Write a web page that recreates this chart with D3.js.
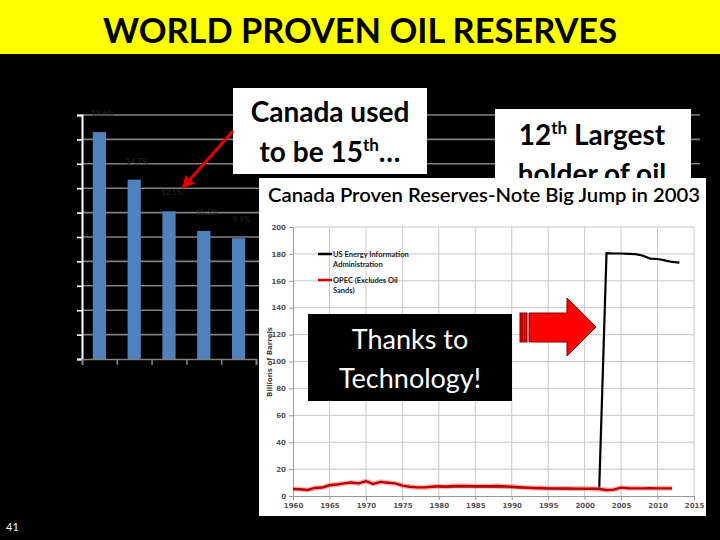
<!DOCTYPE html>
<html>
<head>
<meta charset="utf-8">
<style>
  body { margin: 0; background: #000; }
  svg { display: block; }
  text { font-family: Lato, "Open Sans", sans-serif; }
</style>
<script src="https://cdn.jsdelivr.net/npm/d3@7/dist/d3.min.js"></script>
</head>
<body>
<svg width="720" height="540"></svg>
<script>

// background bar chart: share of world reserves (labels mostly hidden)
var countries = ["Saudi Arabia", "Venezuela", "Canada", "Iran", "Iraq"];
var shares = [18.6, 14.7, 12.1, 10.5, 9.9];

// inset chart: Canada proven reserves, billions of barrels
var opecYears = [1960,1961,1962,1963,1964,1965,1966,1967,1968,1969,1970,1971,1972,1973,1974,1975,1976,1977,1978,1979,
  1980,1981,1982,1983,1984,1985,1986,1987,1988,1989,1990,1991,1992,1993,1994,1995,1996,1997,1998,1999,2000,2001,2002,
  2003,2004,2005,2006,2007,2008,2009,2010,2011,2012];
var opecValues = [5.2,5.0,4.5,6.0,6.3,8.0,8.5,9.4,10.0,9.4,11.0,9.0,10.5,9.9,9.4,7.7,6.9,6.4,6.4,6.9,
  7.2,6.9,7.4,7.4,7.4,7.3,7.3,7.3,7.4,7.2,6.9,6.5,6.2,6.0,5.9,5.7,5.7,5.6,5.6,5.5,5.5,5.4,5.2,
  4.5,4.7,6.2,5.8,5.7,5.7,5.8,5.7,5.7,5.7];
var eiaYears = [1980,1985,1990,1995,2000,2002,2003,2004,2005,2006,2007,2008,2009,2010,2011,2012,2013];
var eiaValues = [6.8,6.9,6.5,5.5,5.2,5.5,180.5,180.3,180.3,180.0,179.8,178.6,176.5,176.2,175.2,174.0,173.5];
var yearTicks = [1960,1965,1970,1975,1980,1985,1990,1995,2000,2005,2010,2015];

var svg = d3.select("svg");
var defs = svg.append("defs");

// title band
svg.append("rect").attr("x", 0).attr("y", 0).attr("width", 720).attr("height", 54).attr("fill", "#ffff00");
svg.append("text").attr("x", 360).attr("y", 43).attr("text-anchor", "middle")
  .attr("font-size", 35).attr("font-weight", "bold").attr("fill", "#000")
  .attr("textLength", 514).attr("lengthAdjust", "spacingAndGlyphs")
  .text("WORLD PROVEN OIL RESERVES");

// ---- bar chart behind everything ----
var bx = d3.scaleBand().domain(countries).range([82, 256]).paddingInner(0.62).paddingOuter(0.31);
var by = d3.scaleLinear().domain([0, 20]).range([359, 115]);

var bg = svg.append("g");
bg.selectAll("line.grid").data(by.ticks(10).slice(1)).enter().append("line")
  .attr("x1", 82).attr("x2", 700)
  .attr("y1", function(d) { return by(d); }).attr("y2", function(d) { return by(d); })
  .attr("stroke", "#808080").attr("stroke-width", 1.6);

bg.selectAll("rect.bar").data(shares).enter().append("rect")
  .attr("x", function(d, i) { return bx(countries[i]); })
  .attr("y", function(d) { return by(d); })
  .attr("width", bx.bandwidth())
  .attr("height", function(d) { return by(0) - by(d); })
  .attr("fill", "#4f81bd");

bg.selectAll("text.lab").data(shares).enter().append("text")
  .attr("x", function(d, i) { return bx(countries[i]) + bx.bandwidth() / 2 + 3; })
  .attr("y", function(d) { return by(d) - 16; })
  .attr("text-anchor", "middle").attr("font-size", 8).attr("fill", "#262626")
  .text(function(d) { return d.toFixed(1) + "%"; });

var yAx = bg.append("g").attr("transform", "translate(82,0)")
  .call(d3.axisLeft(by).ticks(10).tickSize(5).tickFormat(""));
yAx.selectAll("line").attr("stroke", "#fff").attr("stroke-width", 1.6);
yAx.select(".domain").attr("stroke", "#fff").attr("stroke-width", 2);

var xAx = bg.append("g").attr("transform", "translate(0,359)")
  .call(d3.axisBottom(d3.scaleLinear().domain([0, 5]).range([82, 256])).ticks(5).tickSize(6).tickFormat(""));
xAx.selectAll("line").attr("stroke", "#808080").attr("stroke-width", 1.6);
xAx.select(".domain").attr("stroke", "#808080").attr("stroke-width", 1.6);

// ---- callout boxes ----
svg.append("rect").attr("x", 233).attr("y", 88).attr("width", 194).attr("height", 86).attr("fill", "#fff");
svg.append("text").attr("x", 330).attr("y", 122).attr("text-anchor", "middle")
  .attr("font-size", 28).attr("font-weight", "bold").attr("fill", "#000").text("Canada used");
var t2 = svg.append("text").attr("x", 330).attr("y", 162).attr("text-anchor", "middle")
  .attr("font-size", 28).attr("font-weight", "bold").attr("fill", "#000");
t2.append("tspan").text("to be 15");
t2.append("tspan").attr("font-size", 17).attr("dy", -11).text("th");
t2.append("tspan").attr("dy", 11).text("…");

// right box is partly covered by the inset picture
defs.append("clipPath").attr("id", "rightBox")
  .append("rect").attr("x", 495).attr("y", 109).attr("width", 196).attr("height", 69);
var rb = svg.append("g").attr("clip-path", "url(#rightBox)");
rb.append("rect").attr("x", 495).attr("y", 109).attr("width", 196).attr("height", 80).attr("fill", "#fff");
var t3 = rb.append("text").attr("x", 592).attr("y", 145).attr("text-anchor", "middle")
  .attr("font-size", 28).attr("font-weight", "bold").attr("fill", "#000");
t3.append("tspan").text("12");
t3.append("tspan").attr("font-size", 17).attr("dy", -11).text("th");
t3.append("tspan").attr("dy", 11).text(" Largest");
rb.append("text").attr("x", 592).attr("y", 184).attr("text-anchor", "middle")
  .attr("font-size", 28).attr("font-weight", "bold").attr("fill", "#000").text("holder of oil");

// red pointer arrow
defs.append("marker").attr("id", "head")
  .attr("viewBox", "0 0 10 10").attr("refX", 5).attr("refY", 5)
  .attr("markerWidth", 4).attr("markerHeight", 4).attr("orient", "auto")
  .append("path").attr("d", "M0,0L10,5L0,10Z").attr("fill", "#e00000");
svg.append("line").attr("x1", 233).attr("y1", 131).attr("x2", 186).attr("y2", 184)
  .attr("stroke", "#e00000").attr("stroke-width", 3.2).attr("marker-end", "url(#head)");

// ---- inset chart picture ----
svg.append("rect").attr("x", 259).attr("y", 178).attr("width", 447).attr("height", 338).attr("fill", "#fff");
svg.append("text").attr("x", 268).attr("y", 202).attr("font-size", 19).attr("font-weight", 600).attr("fill", "#000")
  .attr("textLength", 432).attr("lengthAdjust", "spacingAndGlyphs")
  .text("Canada Proven Reserves-Note Big Jump in 2003");

var lx = d3.scaleLinear().domain([1960, 2015]).range([293, 694]);
var ly = d3.scaleLinear().domain([0, 200]).range([496, 227]);

var ig = svg.append("g");
ig.selectAll("line.hg").data(ly.ticks(10).slice(1)).enter().append("line")
  .attr("x1", 293).attr("x2", 694)
  .attr("y1", function(d) { return ly(d); }).attr("y2", function(d) { return ly(d); })
  .attr("stroke", "#c8c8c8").attr("stroke-width", 1);
ig.selectAll("line.vg").data(yearTicks.slice(1)).enter().append("line")
  .attr("x1", function(d) { return lx(d); }).attr("x2", function(d) { return lx(d); })
  .attr("y1", 227).attr("y2", 496)
  .attr("stroke", "#c8c8c8").attr("stroke-width", 1);

var ly_ax = ig.append("g").attr("transform", "translate(293,0)")
  .call(d3.axisLeft(ly).ticks(10).tickSize(4));
var lx_ax = ig.append("g").attr("transform", "translate(0,496)")
  .call(d3.axisBottom(lx).tickValues(yearTicks).tickSize(4).tickFormat(d3.format("d")));
[ly_ax, lx_ax].forEach(function(a) {
  a.selectAll("path, line").attr("stroke", "#999");
  a.selectAll("text").attr("font-size", 7).attr("font-weight", "bold").attr("fill", "#555")
    .style("font-family", "'DejaVu Sans', sans-serif");
});
ig.append("text").attr("transform", "translate(272,362) rotate(-90)")
  .attr("text-anchor", "middle").attr("font-size", 7).attr("font-weight", "bold").attr("fill", "#444")
  .style("font-family", "'DejaVu Sans', sans-serif").text("Billions of Barrels");

var line = d3.line().x(function(d) { return lx(d[0]); }).y(function(d) { return ly(d[1]); });
var eia = eiaYears.map(function(y, i) { return [y, eiaValues[i]]; });
var opec = opecYears.map(function(y, i) { return [y, opecValues[i]]; });

ig.append("path").attr("d", line(eia)).attr("fill", "none")
  .attr("stroke", "#000").attr("stroke-width", 2.2);
ig.append("path").attr("d", line(opec)).attr("fill", "none")
  .attr("stroke", "#f08080").attr("stroke-opacity", 0.6).attr("stroke-width", 5);
ig.append("path").attr("d", line(opec)).attr("fill", "none")
  .attr("stroke", "#c00000").attr("stroke-width", 2.4);

// legend
var leg = ig.append("g").style("font-family", "'DejaVu Sans', sans-serif")
  .attr("font-size", 7.5).attr("font-weight", "bold").attr("fill", "#222");
leg.append("line").attr("x1", 318).attr("x2", 332).attr("y1", 254).attr("y2", 254)
  .attr("stroke", "#000").attr("stroke-width", 2.5);
leg.append("text").attr("x", 333).attr("y", 257).text("US Energy Information");
leg.append("text").attr("x", 333).attr("y", 267).text("Administration");
leg.append("line").attr("x1", 318).attr("x2", 332).attr("y1", 280).attr("y2", 280)
  .attr("stroke", "#d00000").attr("stroke-width", 2.5);
leg.append("text").attr("x", 333).attr("y", 283).text("OPEC (Excludes Oil");
leg.append("text").attr("x", 333).attr("y", 293).text("Sands)");

// "Thanks to Technology!" box
svg.append("rect").attr("x", 308).attr("y", 314).attr("width", 204).attr("height", 87).attr("fill", "#000");
svg.append("text").attr("x", 410).attr("y", 349).attr("text-anchor", "middle")
  .attr("font-size", 27).attr("fill", "#fff").text("Thanks to");
svg.append("text").attr("x", 410).attr("y", 388).attr("text-anchor", "middle")
  .attr("font-size", 27).attr("fill", "#fff").text("Technology!");

// big red block arrow
var ba = svg.append("g").attr("stroke", "#8b0000").attr("stroke-width", 1);
ba.append("rect").attr("x", 520).attr("y", 313).attr("width", 3).attr("height", 29).attr("fill", "#d00000");
ba.append("rect").attr("x", 524).attr("y", 313).attr("width", 3).attr("height", 29).attr("fill", "#ff0000");
ba.append("path").attr("d", "M529,313L567,313L567,298L596,327L567,356L567,342L529,342Z").attr("fill", "#ff0000");

// slide number
svg.append("text").attr("x", 6).attr("y", 531).attr("font-size", 11).attr("fill", "#fff").text("41");

</script>
</body>
</html>
